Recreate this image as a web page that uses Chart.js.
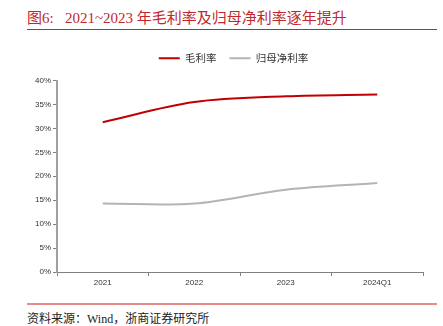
<!DOCTYPE html>
<html>
<head>
<meta charset="utf-8">
<script src="https://cdn.jsdelivr.net/npm/chart.js@4"></script>
<style>
  body { margin: 0; background: #fff; }
  #wrap { position: relative; width: 443px; height: 326px; overflow: hidden; }
  #title { position: absolute; left: 27px; top: 6px; font: 15px "Liberation Serif", "Noto Sans CJK SC"; color: #c0282d; white-space: nowrap; }
  #topline { position: absolute; left: 27px; top: 29px; width: 410px; height: 1px; background: #c0282d; }
  #botline { position: absolute; left: 27px; top: 303px; width: 410px; height: 2px; background: #e38a8a; }
  #source { position: absolute; left: 27px; top: 309px; font: 12px "Liberation Serif", "Noto Sans CJK SC"; color: #222; white-space: nowrap; }
  canvas { position: absolute; left: 0; top: 0; }
</style>
</head>
<body>
<div id="wrap">
  <div id="title">图6:&nbsp;&nbsp; 2021~2023 年毛利率及归母净利率逐年提升</div>
  <div id="topline"></div>
  <canvas id="chart" width="443" height="300"></canvas>
  <div id="botline"></div>
  <div id="source">资料来源：Wind，浙商证券研究所</div>
</div>
<script>
var categories = ['2021', '2022', '2023', '2024Q1'];
var grossMargin = [31.3, 35.5, 36.7, 37.1];
var netMargin = [14.3, 14.3, 17.2, 18.6];
var yTicks = [0, 5, 10, 15, 20, 25, 30, 35, 40];

// extra space between legend and plot, legend centred a bit to the right
var legendGap = {
  id: 'legendGap',
  afterInit: function(chart) {
    var fit = chart.legend.fit;
    chart.legend.fit = function() {
      fit.call(this);
      this.height += 7;
    };
  },
  afterLayout: function(chart) {
    chart.legend.left = 44;
  }
};

var ctx = document.getElementById('chart').getContext('2d');
var myChart = new Chart(ctx, {
  type: 'line',
  data: {
    labels: categories,
    datasets: [
      {
        label: '毛利率',
        data: grossMargin,
        borderColor: '#c00000',
        borderWidth: 2,
        pointRadius: 0,
        tension: 0.35
      },
      {
        label: '归母净利率',
        data: netMargin,
        borderColor: '#b4b4b4',
        borderWidth: 2,
        pointRadius: 0,
        tension: 0.35
      }
    ]
  },
  plugins: [legendGap],
  options: {
    responsive: false,
    animation: false,
    layout: { padding: { top: 40, left: 0, right: 20, bottom: 8 } },
    plugins: {
      tooltip: { enabled: false },
      legend: {
        position: 'top',
        labels: {
          usePointStyle: true,
          pointStyle: 'line',
          pointStyleWidth: 21,
          padding: 13,
          color: '#333',
          font: { family: '"Noto Sans CJK SC"', size: 10.5 }
        }
      }
    },
    scales: {
      x: {
        offset: true,
        grid: { offset: true, drawOnChartArea: false, drawTicks: true, tickLength: 4, color: '#808080' },
        border: { color: '#808080', width: 1 },
        ticks: { color: '#333', font: { family: '"Liberation Sans"', size: 8 }, padding: 2 },
        afterFit: function(scale) { scale.height = 20; }
      },
      y: {
        min: 0,
        max: 40,
        afterBuildTicks: function(scale) { scale.ticks = yTicks.map(function(v){ return { value: v }; }); },
        grid: { drawOnChartArea: false, drawTicks: true, tickLength: 4, color: '#808080' },
        border: { color: '#a0a0a0', width: 2 },
        ticks: {
          color: '#333',
          font: { family: '"Liberation Sans"', size: 8 },
          padding: 2,
          callback: function(v) { return v + '%'; }
        },
        afterFit: function(scale) { scale.width = 57; }
      }
    }
  }
});
</script>
</body>
</html>
